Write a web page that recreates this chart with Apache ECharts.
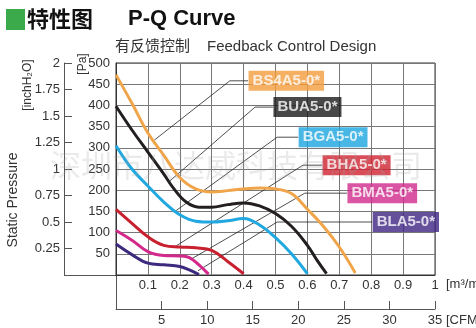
<!DOCTYPE html>
<html><head><meta charset="utf-8">
<script src="https://cdn.jsdelivr.net/npm/echarts@6/dist/echarts.min.js"></script>
<style>html,body{margin:0;padding:0;background:#fff}#c{width:476px;height:328px}</style>
</head><body><div id="c"></div>
<script>
// ---- data (flow m³/min, static pressure Pa) ----
var models = ['BS4A5-0*','BUA5-0*','BGA5-0*','BHA5-0*','BMA5-0*','BLA5-0*'];
var bs4a5 = [[0,472],[0.05,405],[0.1,335],[0.15,282],[0.2,230],[0.25,203],[0.3,196],[0.35,199],[0.4,203],[0.45,205],[0.5,203],[0.55,192],[0.6,155],[0.65,115],[0.7,66],[0.75,5]];
var bua5  = [[0,398],[0.05,342],[0.1,290],[0.15,238],[0.18,205],[0.22,172],[0.26,160],[0.3,160],[0.35,166],[0.4,170],[0.45,163],[0.5,145],[0.55,115],[0.6,70],[0.63,35],[0.66,3]];
var bga5  = [[0,305],[0.05,250],[0.1,210],[0.15,172],[0.2,142],[0.25,127],[0.3,125],[0.35,128],[0.4,133],[0.45,118],[0.5,88],[0.55,50],[0.6,3]];
var bha5  = [[0,155],[0.05,122],[0.1,90],[0.15,70],[0.2,66],[0.25,64],[0.3,58],[0.35,32],[0.4,3]];
var bma5  = [[0,105],[0.05,82],[0.1,55],[0.15,46],[0.2,45],[0.23,41],[0.26,24],[0.29,2]];
var bla5  = [[0,73],[0.05,48],[0.1,28],[0.15,24],[0.2,20],[0.23,12],[0.26,1]];
// leader lines: [point on curve, elbow, box anchor]
var leaders = [
  [[0.12,318],[0.357,458],[0.414,458]],
  [[0.169,222],[0.436,396],[0.492,396]],
  [[0.185,150],[0.505,325],[0.571,325]],
  [[0.179,64],[0.586,259],[0.646,259]],
  [[0.232,36],[0.592,193],[0.724,193]],
  [[0.257,10],[0.505,125],[0.803,125]]
];
var flowTicks = {min:0, max:1, interval:0.1};
var cfmTicks = {min:0, max:35, interval:5};
var paTicks = {min:0, max:500, interval:50};
var inchTicks = {min:0, max:2, interval:0.25};

var curveColors = ['#F0A54A','#231F20','#22A8E0','#C9202F','#D2298B','#3D2A7F'];
var boxColors   = ['#F39C3C','#1C1A1A','#1AA5DF','#D0202E','#D02A8C','#3F2682'];
var curves = [bs4a5,bua5,bga5,bha5,bma5,bla5];

var LAT = '"Liberation Sans", Arial, sans-serif';
var CJK = '"Noto Sans CJK SC", sans-serif';

var series = [];
leaders.forEach(function(l,i){
  series.push({type:'line', xAxisIndex:0, yAxisIndex:0, data:l, symbol:'none', silent:true, z:2,
    lineStyle:{color:'#222', width:0.8}});
});
curves.forEach(function(c,i){
  series.push({type:'line', name:models[i], xAxisIndex:0, yAxisIndex:0, data:c, smooth:0.4,
    symbol:'none', z:3, lineStyle:{color:curveColors[i], width:3}});
});
series.push({type:'scatter', xAxisIndex:0, yAxisIndex:0, symbolSize:1, z:5, silent:true,
  itemStyle:{color:'rgba(0,0,0,0)'},
  data: leaders.map(function(l,i){
    return {value:l[2], label:{show:true, position:'right', distance:0, formatter:models[i],
      backgroundColor:boxColors[i], color:'#fff', fontFamily:LAT, fontWeight:'bold', fontSize:15,
      padding:[2,4,1,4], lineHeight:17}};
  })
});

var chart = echarts.init(document.getElementById('c'), null, {renderer:'canvas'});
chart.setOption({
  animation:false,
  backgroundColor:'#fff',
  grid:{left:116, top:63, width:319, height:212, show:true, borderColor:'#333', borderWidth:1, backgroundColor:'transparent'},
  xAxis:[
    {type:'value', min:flowTicks.min, max:flowTicks.max, interval:flowTicks.interval, position:'bottom',
     axisLine:{onZero:false, lineStyle:{color:'#333',width:1}}, axisTick:{show:false},
     axisLabel:{fontFamily:LAT, fontSize:13, color:'#333', margin:4,
       formatter:function(v){return v===0?'':String(Math.round(v*10)/10);}},
     splitLine:{show:true, lineStyle:{color:'#777', width:1}}},
    {type:'value', min:cfmTicks.min, max:cfmTicks.max, interval:cfmTicks.interval, position:'bottom', offset:34,
     axisLine:{show:true, onZero:false, lineStyle:{color:'#555',width:1}}, axisTick:{show:true, inside:true, length:8, lineStyle:{color:'#555'}},
     axisLabel:{fontFamily:LAT, fontSize:13, color:'#333', margin:5,
       formatter:function(v){return v===0?'':String(v);}},
     splitLine:{show:false}}
  ],
  yAxis:[
    {type:'value', min:paTicks.min, max:paTicks.max, interval:paTicks.interval, position:'left',
     axisLine:{show:true, onZero:false, lineStyle:{color:'#333',width:1}}, axisTick:{show:false},
     axisLabel:{fontFamily:LAT, fontSize:13, color:'#333', margin:6,
       formatter:function(v){return v===0?'':String(v);}},
     splitLine:{show:true, lineStyle:{color:'#777', width:1}}},
    {type:'value', min:inchTicks.min, max:inchTicks.max, interval:inchTicks.interval, position:'left', offset:52,
     axisLine:{show:true, onZero:false, lineStyle:{color:'#555',width:1}}, axisTick:{show:true, inside:true, length:8, lineStyle:{color:'#555'}},
     axisLabel:{fontFamily:LAT, fontSize:13, color:'#333', margin:4,
       formatter:function(v){return v===0?'':String(v);}},
     splitLine:{show:false}}
  ],
  graphic:[
    {type:'rect', shape:{x:6,y:9,width:19,height:21}, style:{fill:'#3BAA4A'}},
    {type:'text', left:27, top:8, style:{text:'特性图', font:'bold 22px '+CJK, fill:'#111'}},
    {type:'text', left:128, top:8, style:{text:'P-Q Curve', font:'bold 22px '+LAT, fill:'#111'}},
    {type:'text', left:115, top:38, style:{text:'有反馈控制', font:'15px '+CJK, fill:'#333'}},
    {type:'text', left:207, top:39, style:{text:'Feedback Control Design', font:'15px '+LAT, fill:'#333'}},
    {type:'text', x:13, y:200, rotation:Math.PI/2, style:{text:'Static Pressure', font:'14px '+LAT, fill:'#333', textAlign:'center', textVerticalAlign:'middle'}},
    {type:'text', x:28, y:85, rotation:Math.PI/2, style:{text:'[inchH₂O]', font:'12px '+LAT, fill:'#333', textAlign:'center', textVerticalAlign:'middle'}},
    {type:'text', x:83, y:64, rotation:Math.PI/2, style:{text:'[Pa]', font:'12px '+LAT, fill:'#333', textAlign:'center', textVerticalAlign:'middle'}},
    {type:'text', x:446, y:284, style:{text:'[m³/min]', font:'13px '+LAT, fill:'#333', textVerticalAlign:'middle'}},
    {type:'text', x:446, y:320, style:{text:'[CFM]', font:'13px '+LAT, fill:'#333', textVerticalAlign:'middle'}},
    {type:'line', shape:{x1:64,y1:275.5,x2:116,y2:275.5}, style:{stroke:'#555', lineWidth:1}},
    {type:'line', shape:{x1:116.5,y1:275,x2:116.5,y2:309}, style:{stroke:'#555', lineWidth:1}},
    {type:'text', left:50, top:150, z:100, style:{text:'深圳市八达威科技有限公司', font:'31px '+CJK, fill:'rgba(160,160,160,0.22)'}}
  ],
  series:series
});
</script></body></html>
